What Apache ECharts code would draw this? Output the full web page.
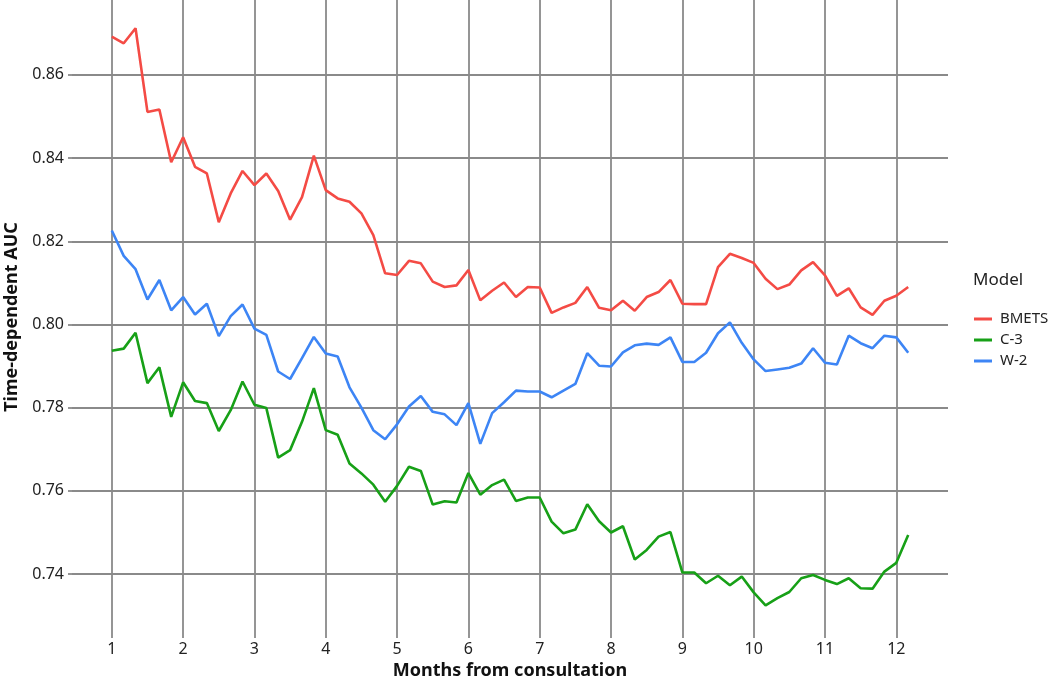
<!DOCTYPE html>
<html>
<head>
<meta charset="utf-8">
<script src="https://cdn.jsdelivr.net/npm/echarts@6/dist/echarts.min.js"></script>
<style>
  html, body { margin: 0; padding: 0; background: #fff; }
  #chart { width: 1050px; height: 679px; }
</style>
</head>
<body>
<div id="chart"></div>
<script>
// months from consultation (one point every 1/6 month)
const months = [
  1.000, 1.167, 1.333, 1.500, 1.667, 1.833, 2.000, 2.167, 2.333, 2.500, 2.667, 2.833,
  3.000, 3.167, 3.333, 3.500, 3.667, 3.833, 4.000, 4.167, 4.333, 4.500, 4.667, 4.833,
  5.000, 5.167, 5.333, 5.500, 5.667, 5.833, 6.000, 6.167, 6.333, 6.500, 6.667, 6.833,
  7.000, 7.167, 7.333, 7.500, 7.667, 7.833, 8.000, 8.167, 8.333, 8.500, 8.667, 8.833,
  9.000, 9.167, 9.333, 9.500, 9.667, 9.833, 10.000, 10.167, 10.333, 10.500, 10.667, 10.833,
  11.000, 11.167, 11.333, 11.500, 11.667, 11.833, 12.000, 12.167
]

const bmets = [
  0.8692, 0.8676, 0.8712, 0.8511, 0.8517, 0.8390, 0.8450, 0.8379, 0.8363, 0.8246, 0.8315, 0.8369,
  0.8335, 0.8363, 0.8321, 0.8252, 0.8306, 0.8406, 0.8323, 0.8303, 0.8295, 0.8267, 0.8215, 0.8123,
  0.8119, 0.8153, 0.8147, 0.8103, 0.8090, 0.8094, 0.8131, 0.8058, 0.8081, 0.8101, 0.8066, 0.8090,
  0.8089, 0.8028, 0.8041, 0.8052, 0.8090, 0.8040, 0.8034, 0.8057, 0.8033, 0.8066, 0.8078, 0.8107,
  0.8050, 0.8049, 0.8049, 0.8138, 0.8170, 0.8160, 0.8148, 0.8110, 0.8085, 0.8096, 0.8130, 0.8150,
  0.8118, 0.8069, 0.8087, 0.8041, 0.8023, 0.8057, 0.8069, 0.8090
]

const c3 = [
  0.7937, 0.7942, 0.7980, 0.7859, 0.7897, 0.7778, 0.7861, 0.7816, 0.7811, 0.7744, 0.7794, 0.7863,
  0.7807, 0.7799, 0.7680, 0.7698, 0.7766, 0.7847, 0.7746, 0.7735, 0.7666, 0.7642, 0.7615, 0.7574,
  0.7612, 0.7658, 0.7648, 0.7567, 0.7575, 0.7572, 0.7643, 0.7591, 0.7614, 0.7627, 0.7576, 0.7584,
  0.7584, 0.7526, 0.7498, 0.7507, 0.7568, 0.7527, 0.7500, 0.7515, 0.7435, 0.7458, 0.7490, 0.7501,
  0.7404, 0.7404, 0.7378, 0.7396, 0.7373, 0.7394, 0.7356, 0.7325, 0.7342, 0.7357, 0.7390, 0.7398,
  0.7386, 0.7376, 0.7390, 0.7366, 0.7365, 0.7406, 0.7427, 0.7494
]

const w2 = [
  0.8226, 0.8165, 0.8133, 0.8060, 0.8107, 0.8034, 0.8066, 0.8024, 0.8050, 0.7972, 0.8020, 0.8048,
  0.7990, 0.7975, 0.7887, 0.7869, 0.7919, 0.7970, 0.7930, 0.7923, 0.7849, 0.7800, 0.7746, 0.7724,
  0.7760, 0.7803, 0.7828, 0.7790, 0.7784, 0.7758, 0.7811, 0.7713, 0.7787, 0.7813, 0.7841, 0.7839,
  0.7839, 0.7825, 0.7841, 0.7857, 0.7931, 0.7901, 0.7899, 0.7933, 0.7950, 0.7954, 0.7951, 0.7969,
  0.7910, 0.7910, 0.7932, 0.7979, 0.8005, 0.7956, 0.7916, 0.7888, 0.7892, 0.7896, 0.7906, 0.7943,
  0.7908, 0.7904, 0.7973, 0.7955, 0.7943, 0.7973, 0.7969, 0.7932
]

const xTicks = [1, 2, 3, 4, 5, 6, 7, 8, 9, 10, 11, 12]
const yTicks = [0.74, 0.76, 0.78, 0.80, 0.82, 0.84, 0.86]

const FONT = '"Noto Sans", "Open Sans", sans-serif'
const GRID_COLOR = '#8a8a8a'

function pairs(ys) {
  return months.map((m, i) => [m, ys[i]])
}

function lineSeries(name, color, ys) {
  return {
    name: name,
    type: 'line',
    data: pairs(ys),
    symbol: 'none',
    smooth: false,
    lineStyle: { color: color, width: 2.6 },
    itemStyle: { color: color },
    animation: false
  }
}

const chart = echarts.init(document.getElementById('chart'))

chart.setOption({
  backgroundColor: '#fff',
  textStyle: { fontFamily: FONT },
  grid: {
    left: 72,
    right: 102,
    top: 0,
    bottom: 45,
    outerBoundsMode: 'none',
    containLabel: false
  },
  xAxis: {
    type: 'value',
    min: 0.442,
    max: 12.725,
    name: 'Months from consultation',
    nameLocation: 'middle',
    nameGap: 24,
    nameTextStyle: { fontSize: 18, fontWeight: 'bold', color: '#111', fontFamily: FONT },
    axisLine: { show: false },
    axisTick: {
      show: true,
      length: 4,
      customValues: xTicks,
      lineStyle: { color: GRID_COLOR, width: 1.8 }
    },
    axisLabel: {
      customValues: xTicks,
      margin: 7,
      fontSize: 16,
      color: '#222',
      fontFamily: FONT
    },
    splitLine: { show: true, lineStyle: { color: GRID_COLOR, width: 1.8 } }
  },
  yAxis: {
    type: 'value',
    min: 0.7256,
    max: 0.878,
    name: 'Time-dependent AUC',
    nameLocation: 'middle',
    nameGap: 51,
    nameTextStyle: { fontSize: 18, fontWeight: 'bold', color: '#111', fontFamily: FONT },
    axisLine: { show: false },
    axisTick: {
      show: true,
      length: 4,
      customValues: yTicks,
      lineStyle: { color: GRID_COLOR, width: 1.8 }
    },
    axisLabel: {
      customValues: yTicks,
      margin: 8,
      fontSize: 16,
      color: '#222',
      fontFamily: FONT,
      formatter: v => v.toFixed(2)
    },
    splitLine: { show: true, lineStyle: { color: GRID_COLOR, width: 1.8 } }
  },
  legend: {
    orient: 'vertical',
    left: 969,
    top: 306,
    icon: 'rect',
    itemWidth: 18,
    itemHeight: 3,
    itemGap: 5,
    data: ['BMETS', 'C-3', 'W-2'],
    textStyle: { fontSize: 15, lineHeight: 16, color: '#222', fontFamily: FONT, padding: [0, 0, 0, 3] }
  },
  graphic: [{
    type: 'text',
    left: 973,
    top: 272,
    style: { text: 'Model', fontSize: 17, fill: '#222', fontFamily: FONT }
  }],
  series: [
    lineSeries('BMETS', '#f44b45', bmets),
    lineSeries('C-3', '#17a017', c3),
    lineSeries('W-2', '#3d85f5', w2)
  ]
})
</script>
</body>
</html>
